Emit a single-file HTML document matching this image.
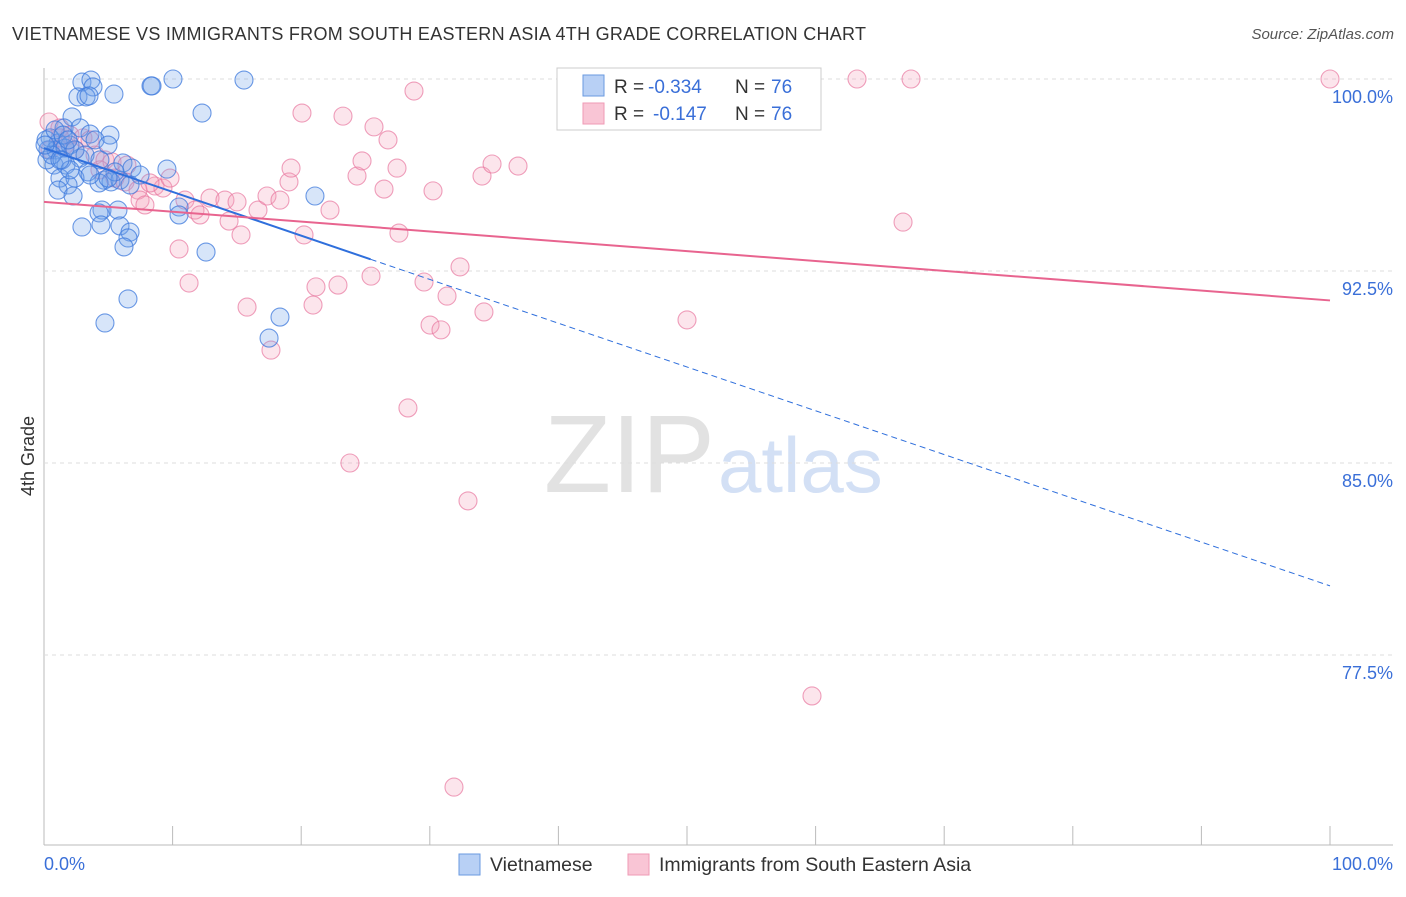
<!DOCTYPE html>
<html><head><meta charset="utf-8"><style>
body{margin:0;background:#fff;font-family:"Liberation Sans",sans-serif;}
svg text{font-family:"Liberation Sans",sans-serif;}
</style></head><body>
<svg id="c" width="1406" height="892">
<text x="12" y="40" font-size="18" fill="#333" textLength="854">VIETNAMESE VS IMMIGRANTS FROM SOUTH EASTERN ASIA 4TH GRADE CORRELATION CHART</text>
<text x="1394" y="39" font-size="15" fill="#555" text-anchor="end" font-style="italic">Source: ZipAtlas.com</text>
<text x="715" y="492" font-size="110" fill="#e2e2e2" text-anchor="end" font-family="Liberation Serif">ZIP</text>
<text x="718" y="492" font-size="78" fill="#d3e0f5">atlas</text>
<text transform="translate(34,456) rotate(-90)" font-size="18" fill="#333" text-anchor="middle">4th Grade</text>
<g id="grid"></g><g id="pts"></g><g id="lines"></g>
<g>
<rect x="557" y="68" width="264" height="62" fill="#fff" stroke="#ccc"/>
<rect x="583" y="75" width="21" height="21" fill="#b8d0f5" stroke="#6a9ae0"/>
<rect x="583" y="103" width="21" height="21" fill="#f9c5d5" stroke="#ef9ab5"/>
<text x="614" y="93" font-size="19" fill="#333">R =</text>
<text x="648" y="93" font-size="19" fill="#3a6fd8">-0.334</text>
<text x="735" y="93" font-size="19" fill="#333">N =</text>
<text x="771" y="93" font-size="19" fill="#3a6fd8">76</text>
<text x="614" y="120" font-size="19" fill="#333">R =</text>
<text x="653" y="120" font-size="19" fill="#3a6fd8">-0.147</text>
<text x="735" y="120" font-size="19" fill="#333">N =</text>
<text x="771" y="120" font-size="19" fill="#3a6fd8">76</text>
</g>
<g>
<rect x="459" y="854" width="21" height="21" fill="#b8d0f5" stroke="#6a9ae0"/>
<text x="490" y="871" font-size="19.5" fill="#333">Vietnamese</text>
<rect x="628" y="854" width="21" height="21" fill="#f9c5d5" stroke="#ef9ab5"/>
<text x="659" y="871" font-size="19.5" fill="#333">Immigrants from South Eastern Asia</text>
</g>
<text x="44" y="870" font-size="18" fill="#3a6fd8">0.0%</text>
<text x="1393" y="870" font-size="18" fill="#3a6fd8" text-anchor="end">100.0%</text>
</svg>
<script>
const yTicks=[100,92.5,85,77.5];
const yTickLabels=["100.0%","92.5%","85.0%","77.5%"];
const xTicks=[0,10,20,30,40,50,60,70,80,90,100];
const blueX=[2.95,3.65,3.81,2.64,3.27,3.5,5.44,8.32,8.4,10.03,15.55,12.29,2.18,1.56,2.8,3.58,5.13,0.47,3.97,1.09,2.02,0.31,0.93,1.63,4.98,2.8,6.14,6.84,9.56,0.78,1.71,3.42,1.24,2.41,4.67,5.21,5.91,4.28,1.87,1.09,2.26,4.51,4.28,5.75,10.5,10.5,21.07,2.95,4.43,5.91,6.69,6.53,6.22,12.6,6.53,4.74,18.35,17.5,0.23,0.62,1.4,2.02,5.52,0.16,1.24,2.41,3.19,4.35,4.98,7.47,6.69,0.86,1.48,1.87,0.08,3.58];
const blueY=[99.88,99.96,99.69,99.3,99.3,99.34,99.41,99.73,99.73,100,99.96,98.67,98.52,98.09,98.09,97.85,97.81,97.7,97.62,97.5,97.42,97.23,97.23,97.3,97.42,96.91,96.72,96.52,96.48,96.64,96.64,96.37,96.13,96.13,96.05,95.98,96.05,95.94,95.86,95.66,95.43,94.88,94.77,94.88,95,94.69,95.43,94.22,94.3,94.26,94.02,93.79,93.44,93.24,91.41,90.47,90.7,89.88,96.84,97.03,96.84,96.45,96.37,97.62,96.84,97.23,97.03,96.84,96.13,96.25,95.86,98.01,97.81,97.62,97.42,96.25];
const pinkX=[0.39,1.24,2.02,3.03,0.47,1.63,2.41,3.97,4.74,5.29,6.45,4.35,5.52,6.3,7.31,8.63,9.25,9.8,8.24,7.47,7.85,10.96,11.74,12.91,14.07,15.01,14.39,15.32,16.64,17.34,18.35,19.05,19.21,20.06,20.22,22.24,23.25,24.34,24.73,25.66,26.44,26.75,27.45,27.6,28.77,25.43,22.86,21.15,20.92,15.79,11.28,10.5,17.65,29.55,31.34,32.35,34.21,30.02,30.87,30.25,34.06,34.84,36.86,28.3,23.79,32.97,50,66.8,63.22,67.42,100,59.72,31.88,12.13,3.58,1.24];
const pinkY=[98.32,98.09,97.81,97.7,97.23,97.42,97.23,97.03,96.84,96.76,96.64,96.45,96.13,95.98,95.66,95.82,95.74,96.13,95.94,95.27,95.08,95.27,94.88,95.35,95.27,95.2,94.45,93.91,94.88,95.43,95.27,95.98,96.52,98.67,93.91,94.88,98.55,96.21,96.8,98.13,95.7,97.62,96.52,93.98,99.53,92.3,91.95,91.88,91.17,91.09,92.03,93.36,89.41,92.07,91.52,92.66,90.9,90.39,90.2,95.63,96.21,96.68,96.6,87.15,85,83.52,90.59,94.41,100,100,100,75.9,72.34,94.69,97.62,97.7];
const blueLine=[97.3,80.2];  // y at x=0 and x=100
const blueSolidEnd=25.4;
const pinkLine=[95.2,91.35];

const X=v=>44+v*12.86;
const Y=v=>79+(100-v)*25.6;
const NS="http://www.w3.org/2000/svg";
function mk(tag,attrs,parent){const e=document.createElementNS(NS,tag);for(const k in attrs)e.setAttribute(k,attrs[k]);parent.appendChild(e);return e;}
const grid=document.getElementById('grid');
let ax=mk('line',{x1:44,y1:68,x2:44,y2:845,stroke:'#bbb'},grid);


let bx=mk('line',{x1:44,y1:845,x2:1393,y2:845,stroke:'#bbb'},grid);


yTicks.forEach((t,i)=>{
  const g=mk('line',{x1:44,y1:Y(t),x2:1393,y2:Y(t),stroke:'#ddd','stroke-dasharray':'4,4'},grid);
  
  
  const tx=mk('text',{x:1393,y:Y(t)+24,'font-size':18,fill:'#3a6fd8','text-anchor':'end'},grid);
  tx.textContent=yTickLabels[i];
  
  
});
xTicks.forEach(t=>{
  const l=mk('line',{x1:X(t),y1:826,x2:X(t),y2:845,stroke:'#bbb'},grid);
  
  
});
const pts=document.getElementById('pts');
function draw(xs,ys,fill,stroke,name){
  xs.forEach((x,i)=>{
    const c=mk('circle',{cx:X(x),cy:Y(ys[i]),r:9,fill:fill,stroke:stroke,'stroke-width':1.1},pts);
    
    
  });
}
draw(pinkX,pinkY,'rgba(244,160,188,0.28)','rgba(232,120,160,0.7)','pink-point');
draw(blueX,blueY,'rgba(110,160,235,0.28)','rgba(60,120,220,0.75)','blue-point');
const lines=document.getElementById('lines');
const by=x=>blueLine[0]+(blueLine[1]-blueLine[0])*x/100;
let l1=mk('line',{x1:X(0),y1:Y(by(0)),x2:X(blueSolidEnd),y2:Y(by(blueSolidEnd)),stroke:'#2f6fdc','stroke-width':2},lines);


let l2=mk('line',{x1:X(blueSolidEnd),y1:Y(by(blueSolidEnd)),x2:X(100),y2:Y(by(100)),stroke:'#2f6fdc','stroke-width':1,'stroke-dasharray':'6,4'},lines);


let l3=mk('line',{x1:X(0),y1:Y(pinkLine[0]),x2:X(100),y2:Y(pinkLine[1]),stroke:'#e8648f','stroke-width':2},lines);


</script>
</body></html>
